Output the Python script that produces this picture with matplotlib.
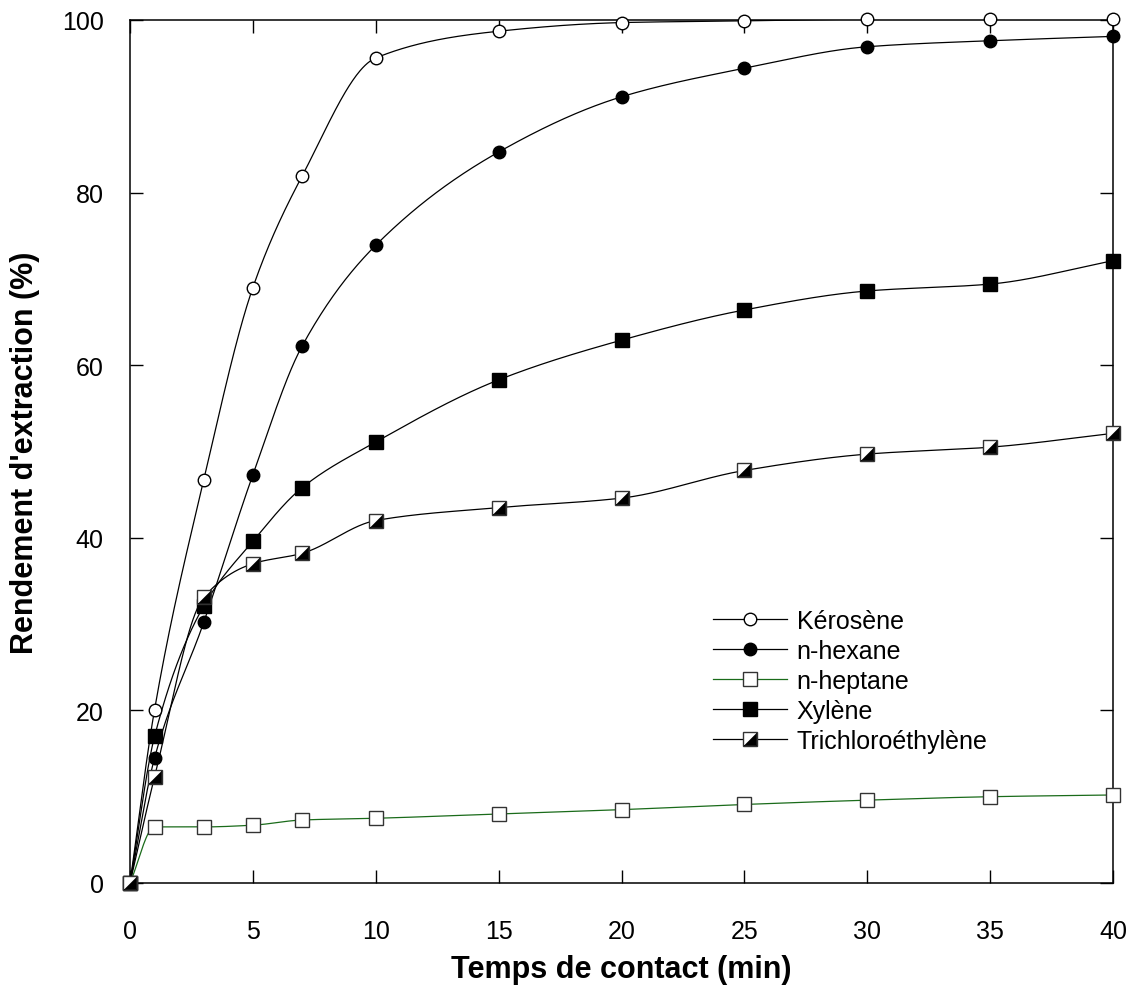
import numpy as np
import matplotlib
matplotlib.use("Agg")
import matplotlib.pyplot as plt
from matplotlib.legend_handler import HandlerTuple
from matplotlib.lines import Line2D

plt.rcParams['font.family'] = ['Liberation Sans', 'DejaVu Sans']

# Data
temps = [0, 1, 3, 5, 7, 10, 15, 20, 25, 30, 35, 40]
kerosene = [0, 20.1, 46.7, 69.0, 81.9, 95.6, 98.7, 99.7, 99.9, 100.1, 100.1, 100.1]
n_hexane = [0, 14.5, 30.2, 47.3, 62.2, 73.9, 84.7, 91.1, 94.4, 96.9, 97.6, 98.1]
n_heptane = [0, 6.5, 6.5, 6.7, 7.3, 7.5, 8.0, 8.5, 9.1, 9.6, 10.0, 10.2]
xylene = [0, 17.0, 32.1, 39.6, 45.8, 51.1, 58.3, 62.9, 66.4, 68.6, 69.4, 72.1]
trichloro = [0, 12.3, 33.1, 37.0, 38.2, 42.0, 43.5, 44.6, 47.8, 49.7, 50.5, 52.1]
labels = ['Kérosène', 'n-hexane', 'n-heptane', 'Xylène', 'Trichloroéthylène']


def pchip(x, y, xs):
    # monotone cubic curve through the points, used only for the smooth line
    x = np.asarray(x, float)
    y = np.asarray(y, float)
    h = np.diff(x)
    d = np.diff(y) / h
    m = np.zeros_like(y)
    for k in range(1, len(x) - 1):
        if d[k - 1] * d[k] <= 0:
            m[k] = 0
        else:
            w1 = 2 * h[k] + h[k - 1]
            w2 = h[k] + 2 * h[k - 1]
            m[k] = (w1 + w2) / (w1 / d[k - 1] + w2 / d[k])
    m[0] = d[0]
    m[-1] = d[-1]
    idx = np.clip(np.searchsorted(x, xs) - 1, 0, len(x) - 2)
    t = (xs - x[idx]) / h[idx]
    h00 = 2 * t**3 - 3 * t**2 + 1
    h10 = t**3 - 2 * t**2 + t
    h01 = -2 * t**3 + 3 * t**2
    h11 = t**3 - t**2
    return h00 * y[idx] + h10 * h[idx] * m[idx] + h01 * y[idx + 1] + h11 * h[idx] * m[idx + 1]


fig = plt.figure(figsize=(11.32, 9.87), dpi=100)
ax = fig.add_axes([130 / 1132, 1 - 884 / 987, (1113 - 130) / 1132, (884 - 21) / 987])

xs = np.linspace(0, 40, 800)
lw = 0.9
tri = [(-1, -1), (1, -1), (1, 1), (-1, -1)]

series = [
    (kerosene, 'black', dict(marker='o', mfc='white', mec='black', ms=9)),
    (n_hexane, 'black', dict(marker='o', mfc='black', mec='black', ms=9)),
    (n_heptane, '#1a6b1a', dict(marker='s', mfc='white', mec='#333333', ms=9.5)),
    (xylene, 'black', dict(marker='s', mfc='black', mec='black', ms=9.5)),
    (trichloro, 'black', dict(marker='s', mfc='white', mec='#333333', ms=9.5)),
]
tri_style = dict(ls='none', marker=tri, ms=9, mfc='black', mec='black', mew=0.4)

for vals, col, mk in series:
    ax.plot(xs, pchip(temps, vals, xs), color=col, lw=lw, zorder=2)
    ax.plot(temps, vals, ls='none', clip_on=False, zorder=3, mew=1.0, **mk)

# diagonal half-filled squares for trichloroéthylène
ax.plot(temps, trichloro, clip_on=False, zorder=4, **tri_style)

ax.set_xlim(0, 40)
ax.set_ylim(0, 100)
ax.set_xticks(range(0, 41, 5))
ax.set_yticks(range(0, 101, 20))
ax.tick_params(direction='in', length=9.5, width=1, top=True, right=True, labelsize=18)
ax.tick_params(axis='x', pad=26)
ax.tick_params(axis='y', pad=19)
for s in ax.spines.values():
    s.set_linewidth(1.1)

ax.set_xlabel('Temps de contact (min)', fontsize=22, fontweight='bold', labelpad=8)
ax.set_ylabel("Rendement d'extraction (%)", fontsize=22, fontweight='bold', labelpad=16)

# legend
handles = [Line2D([], [], color=col, lw=lw, mew=1.0, **mk) for vals, col, mk in series]
handles[4] = (handles[4], Line2D([], [], **tri_style))
fig.legend(handles, labels, loc='upper left', bbox_to_anchor=(713 / 1132, 1 - 610 / 987),
           frameon=False, fontsize=18, handlelength=2.95, handletextpad=0.4,
           labelspacing=0.24, borderpad=0, borderaxespad=0,
           handler_map={tuple: HandlerTuple(ndivide=1, pad=0)})

fig.savefig('out.png', dpi=100)
